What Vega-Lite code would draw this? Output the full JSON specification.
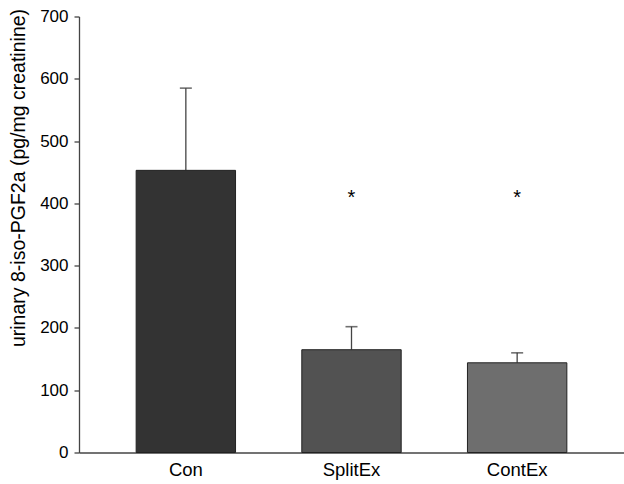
{
  "$schema": "https://vega.github.io/schema/vega-lite/v6.json",
  "width": 545,
  "height": 436,
  "autosize": {"type": "none"},
  "padding": {"left": 79, "top": 16.5, "right": 0, "bottom": 31.5},
  "background": "white",
  "config": {
    "view": {"stroke": null},
    "font": "Liberation Sans",
    "axis": {"grid": false, "labelFont": "Liberation Sans", "titleFont": "Liberation Sans", "labelColor": "#000", "titleColor": "#000", "domainColor": "#444", "tickColor": "#444", "domainWidth": 1.3, "tickWidth": 1.3}
  },
  "data": {
    "values": [
      {"group": "Con", "mean": 453, "upper": 585, "sig": ""},
      {"group": "SplitEx", "mean": 165, "upper": 202, "sig": "*"},
      {"group": "ContEx", "mean": 144, "upper": 160, "sig": "*"}
    ]
  },
  "encoding": {
    "x": {
      "field": "group",
      "type": "nominal",
      "sort": null,
      "scale": {"paddingInner": 0.4, "paddingOuter": 0.345},
      "axis": {"title": null, "labelAngle": 0, "ticks": false, "labelFontSize": 18.5, "labelPadding": 8}
    }
  },
  "layer": [
    {
      "mark": {"type": "rule", "color": "#444", "strokeWidth": 1.3},
      "encoding": {
        "y": {"field": "mean", "type": "quantitative"},
        "y2": {"field": "upper"}
      }
    },
    {
      "mark": {"type": "tick", "color": "#333", "size": 12, "thickness": 1.6, "orient": "horizontal"},
      "encoding": {
        "y": {"field": "upper", "type": "quantitative"}
      }
    },
    {
      "mark": {"type": "bar", "stroke": "#222", "strokeWidth": 1},
      "encoding": {
        "y": {
          "field": "mean",
          "type": "quantitative",
          "scale": {"domain": [0, 700], "nice": false},
          "axis": {
            "title": "urinary 8-iso-PGF2a (pg/mg creatinine)",
            "titleFontSize": 19.5,
            "titleFontWeight": "normal",
            "titleX": -61,
            "titleY": 161,
            "titleBaseline": "middle",
            "values": [0, 100, 200, 300, 400, 500, 600, 700],
            "tickSize": 5,
            "labelFontSize": 17,
            "labelPadding": 6
          }
        },
        "color": {
          "field": "group",
          "type": "nominal",
          "sort": null,
          "scale": {"domain": ["Con", "SplitEx", "ContEx"], "range": ["#333333", "#525252", "#6e6e6e"]},
          "legend": null
        }
      }
    },
    {
      "mark": {"type": "text", "fontSize": 20, "baseline": "alphabetic", "color": "#000"},
      "encoding": {
        "y": {"datum": 399, "type": "quantitative"},
        "text": {"field": "sig"}
      }
    }
  ]
}
